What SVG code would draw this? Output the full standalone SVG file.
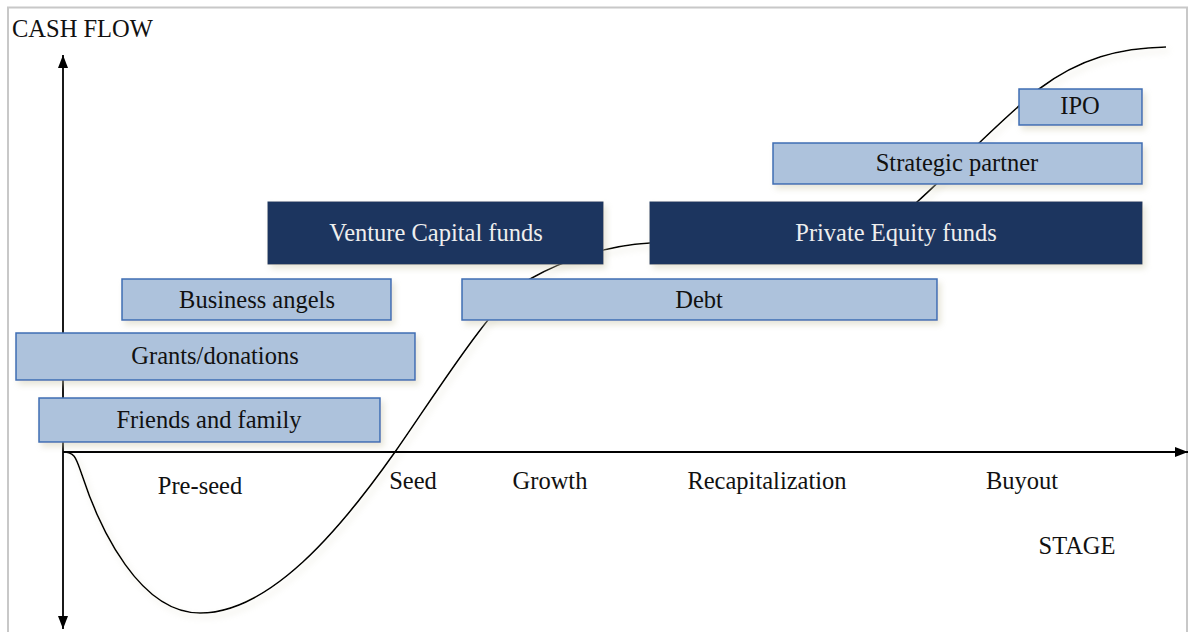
<svg xmlns="http://www.w3.org/2000/svg" width="1189" height="632" viewBox="0 0 1189 632">
  <defs>
    <style>
      .lbl { font-family: "Liberation Serif", "Times New Roman", serif; font-size: 24.5px; fill: #111; }
      .center { text-anchor: middle; }
      .light { fill: #adc2dc; stroke: #3e6db4; stroke-width: 1.5; }
      .dark { fill: #1b365f; stroke: #1b365f; stroke-width: 1; }
      .darktxt { fill: #eeeeee; }
      .axis { stroke: #000; stroke-width: 1.8; fill: none; }
      .curve { stroke: #000; stroke-width: 1.6; fill: none; }
    </style>
    <filter id="sh" x="-10%" y="-20%" width="130%" height="160%">
      <feDropShadow dx="3" dy="4" stdDeviation="3" flood-color="#c9c4a8" flood-opacity="0.45"/>
    </filter>
    <marker id="arr" viewBox="0 0 13 10" refX="13" refY="5" markerWidth="13" markerHeight="10" markerUnits="userSpaceOnUse" orient="auto-start-reverse">
      <path d="M0,0 L13,5 L0,10 Z" fill="#000"/>
    </marker>
  </defs>
  <rect x="0" y="0" width="1189" height="632" fill="#fff"/>
  <path d="M8,632 L8,7.5 L1187,7.5 L1187,632" fill="none" stroke="#c8c8c8" stroke-width="2"/>

  <g id="curve-group">
    <path class="curve" filter="url(#sh)" d="M63,452 C75,452 76,458 82,475 C100,530 140,613 200,613 C270,613 340,530 395,452 C435,395 495,298 530,279 C565,259 610,245 650,243 C800,238 870,245 917,202 C960,163 1000,120 1039,89 C1080,58 1120,48 1166,47"/>
  </g>

  <g id="connectors">
    <line class="axis" x1="63" y1="55" x2="63" y2="629" marker-start="url(#arr)" marker-end="url(#arr)"/>
    <line class="axis" x1="63" y1="452" x2="1188" y2="452" marker-end="url(#arr)"/>
  </g>

  <g id="friends-family">
    <rect class="light" filter="url(#sh)" x="39" y="398" width="341" height="44"/>
    <text class="lbl center" x="209" y="428">Friends and family</text>
  </g>
  <g id="grants">
    <rect class="light" filter="url(#sh)" x="16" y="333" width="399" height="47"/>
    <text class="lbl center" x="215" y="364">Grants/donations</text>
  </g>
  <g id="business-angels">
    <rect class="light" filter="url(#sh)" x="122" y="279" width="269" height="41"/>
    <text class="lbl center" x="257" y="308">Business angels</text>
  </g>
  <g id="debt">
    <rect class="light" filter="url(#sh)" x="462" y="279" width="475" height="41"/>
    <text class="lbl center" x="699" y="308">Debt</text>
  </g>
  <g id="venture-capital">
    <rect class="dark" filter="url(#sh)" x="268" y="202" width="335" height="62"/>
    <text class="lbl center darktxt" x="436" y="241">Venture Capital funds</text>
  </g>
  <g id="private-equity">
    <rect class="dark" filter="url(#sh)" x="650" y="202" width="492" height="62"/>
    <text class="lbl center darktxt" x="896" y="241">Private Equity funds</text>
  </g>
  <g id="strategic-partner">
    <rect class="light" filter="url(#sh)" x="773" y="143" width="369" height="41"/>
    <text class="lbl center" x="957" y="171">Strategic partner</text>
  </g>
  <g id="ipo">
    <rect class="light" filter="url(#sh)" x="1019" y="89" width="123" height="36"/>
    <text class="lbl center" x="1080" y="114">IPO</text>
  </g>

  <g id="labels">
    <text class="lbl" x="12" y="37">CASH FLOW</text>
    <text class="lbl center" x="200" y="494">Pre-seed</text>
    <text class="lbl center" x="413" y="489">Seed</text>
    <text class="lbl center" x="550" y="489">Growth</text>
    <text class="lbl center" x="767" y="489">Recapitalization</text>
    <text class="lbl center" x="1022" y="489">Buyout</text>
    <text class="lbl center" x="1077" y="554">STAGE</text>
  </g>
</svg>
